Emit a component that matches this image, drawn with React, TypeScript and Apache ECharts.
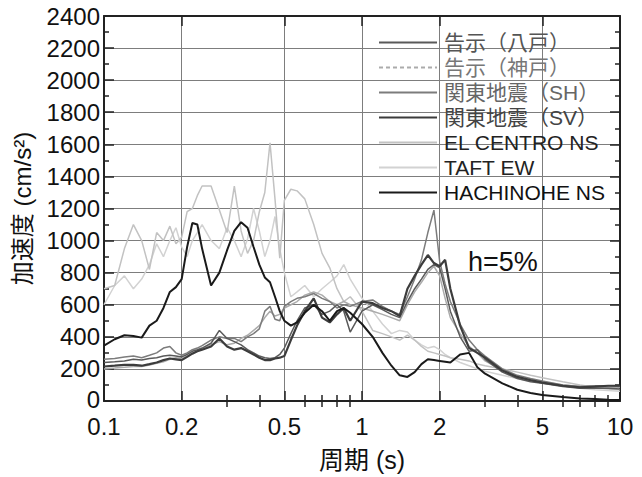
import React, { useEffect, useRef } from "react";
import * as echarts from "echarts";

const periods = [0.1, 0.11, 0.12, 0.13, 0.14, 0.15, 0.16, 0.17, 0.18, 0.19, 0.2, 0.21, 0.22, 0.23, 0.24, 0.26, 0.28, 0.3, 0.32, 0.34, 0.36, 0.38, 0.4, 0.42, 0.44, 0.46, 0.48, 0.5, 0.53, 0.56, 0.6, 0.65, 0.7, 0.75, 0.8, 0.85, 0.9, 1.0, 1.1, 1.2, 1.3, 1.4, 1.5, 1.6, 1.7, 1.8, 1.9, 2.0, 2.1, 2.2, 2.4, 2.6, 2.8, 3.0, 3.5, 4, 4.5, 5, 6, 7, 8, 9, 10];

const kokujiHachinohe = [240, 245, 250, 260, 255, 265, 270, 280, 285, 280, 275, 290, 310, 320, 330, 360, 440, 390, 370, 350, 320, 300, 280, 270, 265, 270, 290, 330, 420, 500, 580, 600, 540, 560, 600, 560, 430, 560, 600, 570, 540, 520, 620, 700, 760, 820, 850, 830, 700, 560, 400, 310, 320, 260, 180, 140, 120, 110, 90, 80, 80, 80, 75];
const kokujiKobe = [200, 205, 210, 215, 215, 225, 235, 245, 260, 270, 265, 280, 300, 310, 325, 350, 370, 350, 360, 390, 410, 440, 470, 520, 560, 530, 540, 580, 600, 620, 660, 680, 660, 620, 600, 620, 600, 580, 560, 540, 520, 500, 600, 680, 740, 800, 840, 780, 640, 520, 420, 340, 300, 250, 190, 150, 130, 120, 100, 90, 85, 85, 85];
const kantoSH = [260, 265, 275, 280, 270, 285, 300, 330, 340, 300, 285, 300, 320, 330, 345, 380, 400, 390, 390, 370, 400, 420, 450, 560, 590, 510, 500, 590, 620, 640, 650, 670, 640, 620, 580, 600, 590, 620, 630, 590, 560, 540, 650, 760, 880, 1050, 1190, 870, 730, 620, 480, 380, 320, 280, 200, 160, 140, 125, 100, 90, 95, 95, 90];
const kantoSV = [215, 220, 225, 225, 220, 230, 240, 255, 265, 260, 255, 275, 295, 310, 320, 340, 390, 340, 320, 330, 310, 290, 270, 255, 255, 265, 270, 280, 380, 470, 560, 640, 520, 490, 540, 580, 500, 620, 610, 580, 560, 530, 700, 780, 850, 910, 860, 840, 880, 700, 470, 330, 300, 270, 190, 150, 130, 115, 95, 85, 90, 95, 95];
const elCentroNS = [700, 720, 950, 1100, 1000, 820, 1050, 1000, 1090, 980, 1020, 1180, 1200, 1280, 1340, 1340, 1190, 1050, 1340, 1060, 920, 1000, 1180, 1300, 1610, 1260, 890, 1250, 1320, 1310, 1260, 1100, 920, 830, 700, 620, 650, 560, 440, 420, 400, 380, 410, 380, 340, 310, 300, 290, 280, 270, 260, 250, 230, 220, 200, 180, 160, 145, 120, 100, 85, 75, 70];
const taftEW = [600, 720, 780, 700, 760, 850, 980, 900, 1000, 1080, 960, 900, 1000, 1050, 1100, 1000, 950, 1080, 1000, 900, 1010, 1200, 1060, 900, 1000, 1150, 950, 800, 650, 680, 720, 650, 700, 740, 780, 850, 760, 640, 560, 480, 420, 440, 430, 380, 350, 330, 340, 320, 290, 270, 240, 220, 200, 185, 160, 140, 125, 110, 95, 80, 70, 65, 60];
const hachinoheNS = [345, 385, 410, 405, 395, 470, 500, 580, 680, 710, 760, 960, 1110, 1100, 950, 720, 800, 940, 1060, 1115, 1080, 960, 850, 770, 740, 650, 560, 500, 470, 490, 550, 600, 560, 500, 560, 580, 550, 480, 400, 300, 220, 160, 150, 180, 230, 260, 255, 250, 245, 240, 290, 300, 210, 170, 110, 70, 50, 38, 25, 15, 12, 8, 6];

const xMajorTicks = [0.1, 0.2, 0.5, 1, 2, 5, 10];
const xMinorTicks = [0.3, 0.4, 0.6, 0.7, 0.8, 0.9, 3, 4, 6, 7, 8, 9];
const legendNames = ["告示（八戸）", "告示（神戸）", "関東地震（SH）", "関東地震（SV）", "EL CENTRO NS", "TAFT EW", "HACHINOHE NS"];

const FONT = "'Liberation Sans', 'Noto Sans CJK JP', sans-serif";

export default function App() {
  const ref = useRef<HTMLDivElement>(null);
  useEffect(() => {
    const chart = echarts.init(ref.current!, undefined, { renderer: "svg" });
    const toPts = (vals: number[]) => periods.map((p, i) => [p, vals[i]]);
    const mk = (name: string, vals: number[], color: string, width: number, z: number) => ({
      name,
      type: "line",
      data: toPts(vals),
      symbol: "none",
      smooth: false,
      z,
      lineStyle: { color, width },
      itemStyle: { color },
    });
    const majorAxis = (pos: string, show: boolean) => ({
      type: "log",
      logBase: 10,
      min: 0.1,
      max: 10,
      position: pos,
      axisLine: { show: true, onZero: false, lineStyle: { color: "#222", width: 2 } },
      axisTick: { show: true, inside: true, length: 10, customValues: xMajorTicks, lineStyle: { color: "#222", width: 1.5 } },
      axisLabel: {
        show,
        customValues: xMajorTicks,
        color: "#111",
        fontSize: 24,
        lineHeight: 20,
        fontFamily: FONT,
        margin: 16,
        formatter: (v: number) => String(Number(v.toPrecision(3))),
      },
      splitLine: { show, lineStyle: { color: "#7d7d7d", width: 1 } },
      minorTick: { show: false },
      minorSplitLine: { show: false },
    });
    const minorAxis = (pos: string) => ({
      type: "log",
      logBase: 10,
      min: 0.1,
      max: 10,
      position: pos,
      axisLine: { show: false },
      axisTick: { show: true, inside: true, length: 6, customValues: xMinorTicks, lineStyle: { color: "#222", width: 1.5 } },
      axisLabel: { show: false },
      splitLine: { show: false },
    });
    chart.setOption({
      animation: false,
      backgroundColor: "#fff",
      grid: { left: 104, right: 22, top: 16, bottom: 73, containLabel: false },
      xAxis: [
        {
          ...majorAxis("bottom", true),
          name: "周期 (s)",
          nameLocation: "middle",
          nameGap: 46,
          nameTextStyle: { color: "#111", fontSize: 25, fontFamily: FONT },
        },
        minorAxis("bottom"),
        majorAxis("top", false),
        minorAxis("top"),
      ],
      yAxis: [
        {
          type: "value",
          min: 0,
          max: 2400,
          interval: 200,
          position: "left",
          name: "加速度 (cm/s²)",
          nameLocation: "middle",
          nameGap: 70,
          nameTextStyle: { color: "#111", fontSize: 24, fontFamily: FONT },
          axisLine: { show: true, lineStyle: { color: "#222", width: 2 } },
          axisTick: { show: true, inside: true, length: 10, lineStyle: { color: "#222", width: 1.5 } },
          minorTick: { show: true, splitNumber: 2, length: 5, lineStyle: { color: "#222", width: 1.5 } },
          axisLabel: {
            color: "#111",
            fontSize: 24,
            lineHeight: 18,
            fontFamily: FONT,
            margin: 4,
            formatter: (v: number) => (v === 0 ? "{z|0}" : String(v)),
            rich: { z: { fontSize: 24, fontFamily: FONT, color: "#111", padding: [0, 0, 3, 0] } },
          },
          splitLine: { show: true, lineStyle: { color: "#7d7d7d", width: 1 } },
        },
        {
          type: "value",
          min: 0,
          max: 2400,
          interval: 200,
          position: "right",
          axisLine: { show: true, lineStyle: { color: "#222", width: 2 } },
          axisTick: { show: true, inside: true, length: 10, lineStyle: { color: "#222", width: 1.5 } },
          minorTick: { show: true, splitNumber: 2, length: 5, lineStyle: { color: "#222", width: 1.5 } },
          axisLabel: { show: false },
          splitLine: { show: false },
        },
      ],
      legend: {
        orient: "vertical",
        left: 378,
        top: 32,
        itemWidth: 58,
        itemHeight: 10,
        itemGap: 4,
        padding: 0,
        itemStyle: { opacity: 0 },
        textStyle: { fontSize: 21, lineHeight: 21, fontFamily: FONT, color: "#111", padding: [0, 0, 0, 2] },
        data: [
          { name: legendNames[0], textStyle: { color: "#555" } },
          { name: legendNames[1], textStyle: { color: "#777" }, lineStyle: { type: [4, 3] } },
          { name: legendNames[2], textStyle: { color: "#666" } },
          { name: legendNames[3], textStyle: { color: "#444" } },
          { name: legendNames[4], textStyle: { color: "#222" } },
          { name: legendNames[5], textStyle: { color: "#222" } },
          { name: legendNames[6], textStyle: { color: "#111" } },
        ],
      },
      graphic: [
        {
          type: "text",
          left: 468,
          top: 248,
          style: { text: "h=5%", fontSize: 27, fontFamily: FONT, fill: "#111" },
        },
      ],
      series: [
        mk(legendNames[5], taftEW, "#d2d2d2", 1.5, 2),
        mk(legendNames[4], elCentroNS, "#c2c2c2", 1.5, 3),
        mk(legendNames[1], kokujiKobe, "#ababab", 1.5, 4),
        mk(legendNames[2], kantoSH, "#7c7c7c", 1.5, 5),
        mk(legendNames[0], kokujiHachinohe, "#5a5a5a", 1.5, 6),
        mk(legendNames[3], kantoSV, "#3c3c3c", 2.2, 7),
        mk(legendNames[6], hachinoheNS, "#1a1a1a", 2, 8),
      ],
    });
    return () => chart.dispose();
  }, []);
  return <div ref={ref} style={{ width: 642, height: 477, position: "absolute", left: 0, top: 0 }} />;
}
